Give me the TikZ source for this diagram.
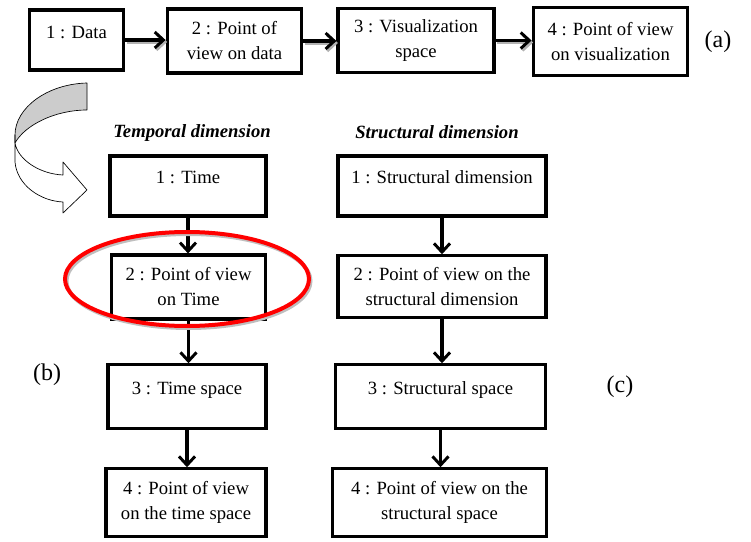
\documentclass[tikz,border=0pt]{standalone}
\usepackage{fontspec}
\setmainfont{Liberation Serif}
\usetikzlibrary{arrows.meta,positioning}

\begin{document}
\begin{tikzpicture}[x=0.75pt,y=-0.75pt,
  box/.style={draw, line width=2.4pt, align=center, fill=white, inner sep=2pt,
              font=\fontsize{14}{18.75}\selectfont},
  ttl/.style={font=\fontsize{14}{17}\selectfont\bfseries\itshape, inner sep=1pt},
  lbl/.style={font=\fontsize{18}{20}\selectfont, inner sep=1pt},
  arr/.style={-{Straight Barb[length=6.5pt,width=12pt,line width=2.2pt]}, line width=2.4pt},
  shd/.style={arr, draw=black!30},
  hl/.style={draw=red, line width=3pt},
  ribbon/.style={draw=black, line width=0.5pt, line join=round}
]
\useasboundingbox (0,0) rectangle (751,542);

% top row: the data pipeline
\node[box, minimum width=71pt,  minimum height=45pt]   (data)     at (76.5,40)  {1 : Data\\[-8pt]\mbox{}};
\node[box, minimum width=101pt, minimum height=48pt]   (pvdata)   at (234.5,41) {2 : Point of\\view on data};
\node[box, minimum width=117pt, minimum height=47.5pt] (visspace) at (416,40.5) {3 : Visualization\\space};
\node[box, minimum width=116pt, minimum height=50.5pt] (pvvis)    at (610.5,41.5) {4 : Point of view\\on visualization};
\node[lbl] (lbla) at (718,42) {(a)};

% temporal column
\node[ttl] (ttltime) at (192,133) {Temporal dimension};
\node[box, minimum width=117pt,   minimum height=45pt]   (time)        at (188,186)   {1 : Time\\[-6pt]\mbox{}};
\node[box, minimum width=116pt,   minimum height=48pt]   (pvtime)      at (188.5,287) {2 : Point of view\\on Time};
\node[box, minimum width=118.5pt, minimum height=47.5pt] (timespace)   at (187,396.5) {3 : Time space\\[-6pt]\mbox{}};
\node[box, minimum width=120pt,   minimum height=50.5pt] (pvtimespace) at (186,502.5) {4 : Point of view\\on the time space};
\node[lbl] (lblb) at (47,375) {(b)};

% structural column
\node[ttl] (ttlstruct) at (437,132) {Structural dimension};
\node[box, minimum width=156pt, minimum height=45pt]   (struct)        at (442,186)   {1 : Structural dimension\\[-6pt]\mbox{}};
\node[box, minimum width=156pt, minimum height=46pt]   (pvstruct)      at (442,286.5) {2 : Point of view on the\\structural dimension};
\node[box, minimum width=158pt, minimum height=47.5pt] (structspace)   at (440.5,396.5) {3 : Structural space\\[-6pt]\mbox{}};
\node[box, minimum width=160pt, minimum height=50.5pt] (pvstructspace) at (439.5,502.5) {4 : Point of view on the\\structural space};
\node[lbl] (lblc) at (620,387) {(c)};

% arrows of the top row, with their grey shadow
\foreach \a/\b in {data/pvdata, pvdata/visspace, visspace/pvvis} {
  \draw[shd, transform canvas={shift={(1.2pt,-1.5pt)}}] (\a.east) -- (\b.west |- \a.east);
  \draw[arr] (\a.east) -- (\b.west |- \a.east);
}

% arrows of the two columns
\foreach \a/\b in {time/pvtime, pvtime/timespace, timespace/pvtimespace,
                   struct/pvstruct, pvstruct/structspace, structspace/pvstructspace}
  \draw[arr] (\a.south) -- (\a.south |- \b.north);

% curved ribbon arrow from (a) down to (b)
\fill[black!20] (87,83) .. controls (47,84) and (15,108) .. (15,135) -- (15,143)
      .. controls (25,125) and (55,110) .. (87,110) -- cycle;
\draw[ribbon] (87,83) .. controls (47,84) and (15,108) .. (15,135) -- (15,143)
      .. controls (25,125) and (55,110) .. (87,110) -- cycle;
\draw[ribbon, fill=white] (15,135) -- (15,162) .. controls (17,185) and (40,201) .. (63,202)
      -- (63,213) -- (87,190) -- (63,162) -- (63,175)
      .. controls (40,174) and (18,160) .. (15,143) -- cycle;

% highlight round the point of view on time
\draw[draw=black!25, line width=3pt] (188.5,281) ellipse [x radius=91.5pt, y radius=35.25pt];
\draw[hl] (187,279) ellipse [x radius=91.5pt, y radius=35.25pt];
\end{tikzpicture}
\end{document}
